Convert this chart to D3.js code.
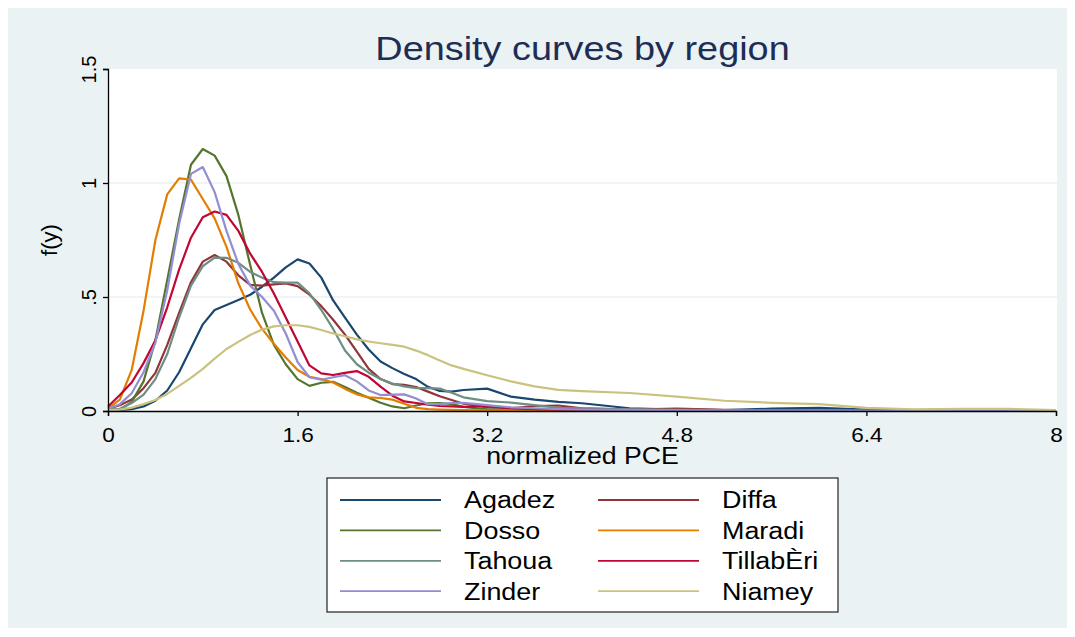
<!DOCTYPE html>
<html>
<head>
<meta charset="utf-8">
<script src="https://cdn.jsdelivr.net/npm/d3@7"></script>
<style>
  body { margin: 0; background: #fff; }
  svg { display: block; font-family: "Liberation Sans", Arial, sans-serif; }
</style>
</head>
<body>
<svg id="chart" width="1075" height="637"></svg>
<script>
// DATA
const xGrid = [0, 0.1, 0.2, 0.3, 0.4, 0.5, 0.6, 0.7, 0.8, 0.9, 1.0, 1.1, 1.2, 1.3, 1.4, 1.5,
  1.6, 1.7, 1.8, 1.9, 2.0, 2.1, 2.2, 2.3, 2.4, 2.5, 2.6, 2.7, 2.8, 2.9, 3.0, 3.2, 3.4, 3.6,
  3.8, 4.0, 4.4, 4.8, 5.2, 5.6, 6.0, 6.4, 6.8, 7.2, 7.6, 8.0];

const agadez = [0.005, 0.005, 0.008, 0.02, 0.045, 0.09, 0.17, 0.275, 0.38, 0.443, 0.465, 0.487, 0.51, 0.545, 0.585, 0.63,
  0.665, 0.647, 0.585, 0.485, 0.41, 0.335, 0.27, 0.217, 0.188, 0.162, 0.14, 0.106, 0.088, 0.085, 0.092, 0.098, 0.063, 0.05,
  0.04, 0.034, 0.012, 0.006, 0.004, 0.01, 0.014, 0.006, 0.003, 0.002, 0.001, 0.001];
const diffa = [0.01, 0.025, 0.05, 0.1, 0.167, 0.29, 0.43, 0.565, 0.655, 0.684, 0.655, 0.595, 0.553, 0.55, 0.555, 0.56,
  0.548, 0.51, 0.46, 0.4, 0.335, 0.26, 0.185, 0.14, 0.118, 0.115, 0.105, 0.085, 0.065, 0.048, 0.032, 0.016, 0.012, 0.022,
  0.024, 0.012, 0.006, 0.01, 0.005, 0.003, 0.002, 0.002, 0.001, 0.001, 0.001, 0.001];
const dosso = [0.003, 0.005, 0.04, 0.13, 0.31, 0.575, 0.84, 1.08, 1.149, 1.12, 1.03, 0.86, 0.64, 0.43, 0.29, 0.205,
  0.14, 0.11, 0.124, 0.128, 0.105, 0.08, 0.058, 0.036, 0.02, 0.012, 0.024, 0.034, 0.035, 0.03, 0.018, 0.007, 0.004, 0.003,
  0.002, 0.002, 0.001, 0.001, 0.001, 0.001, 0.001, 0.001, 0.001, 0.001, 0.001, 0.001];
const maradi = [0.012, 0.05, 0.18, 0.44, 0.75, 0.95, 1.02, 1.015, 0.93, 0.845, 0.72, 0.56, 0.445, 0.36, 0.295, 0.235,
  0.18, 0.15, 0.14, 0.125, 0.097, 0.073, 0.06, 0.057, 0.05, 0.032, 0.014, 0.008, 0.006, 0.005, 0.004, 0.003, 0.003, 0.002,
  0.002, 0.002, 0.001, 0.001, 0.001, 0.001, 0.001, 0.001, 0.001, 0.001, 0.001, 0.001];
const tahoua = [0.005, 0.01, 0.035, 0.072, 0.14, 0.25, 0.41, 0.55, 0.635, 0.673, 0.672, 0.65, 0.61, 0.585, 0.565, 0.563,
  0.563, 0.516, 0.443, 0.36, 0.265, 0.205, 0.168, 0.14, 0.12, 0.108, 0.1, 0.1, 0.098, 0.08, 0.06, 0.043, 0.037, 0.026,
  0.014, 0.012, 0.007, 0.005, 0.004, 0.003, 0.002, 0.002, 0.001, 0.001, 0.001, 0.001];
const tillaberi = [0.02, 0.07, 0.125, 0.21, 0.31, 0.455, 0.62, 0.76, 0.85, 0.875, 0.86, 0.79, 0.69, 0.61, 0.515, 0.41,
  0.305, 0.2, 0.165, 0.158, 0.167, 0.175, 0.15, 0.107, 0.067, 0.042, 0.035, 0.028, 0.022, 0.02, 0.018, 0.022, 0.012, 0.008,
  0.006, 0.005, 0.004, 0.003, 0.002, 0.002, 0.001, 0.001, 0.001, 0.001, 0.001, 0.001];
const zinder = [0.01, 0.03, 0.078, 0.17, 0.3, 0.53, 0.82, 1.04, 1.07, 0.96, 0.79, 0.645, 0.55, 0.5, 0.44, 0.34,
  0.215, 0.148, 0.137, 0.148, 0.157, 0.13, 0.09, 0.07, 0.072, 0.073, 0.055, 0.03, 0.03, 0.035, 0.036, 0.026, 0.016, 0.012,
  0.008, 0.006, 0.005, 0.004, 0.003, 0.002, 0.002, 0.001, 0.001, 0.001, 0.001, 0.001];
const niamey = [0.003, 0.006, 0.015, 0.03, 0.048, 0.075, 0.11, 0.145, 0.185, 0.23, 0.272, 0.303, 0.333, 0.357, 0.371, 0.376,
  0.376, 0.369, 0.355, 0.34, 0.328, 0.314, 0.305, 0.297, 0.29, 0.282, 0.265, 0.245, 0.222, 0.2, 0.185, 0.157, 0.13, 0.108,
  0.093, 0.087, 0.079, 0.063, 0.045, 0.036, 0.03, 0.014, 0.007, 0.009, 0.009, 0.004];

const regionNames = ["Agadez", "Diffa", "Dosso", "Maradi", "Tahoua", "TillabÈri", "Zinder", "Niamey"];
const regionValues = [agadez, diffa, dosso, maradi, tahoua, tillaberi, zinder, niamey];
const regionColors = ["#1a476f", "#90353b", "#55752f", "#e37e00", "#6e8e84", "#c10534", "#938dd2", "#cac27e"];

const xTicks = [0, 1.6, 3.2, 4.8, 6.4, 8];
const yTicks = [0, 0.5, 1, 1.5];
const yTickLabels = ["0", ".5", "1", "1.5"];

// LAYOUT
const svg = d3.select("#chart");
const plot = { left: 108, right: 1057, top: 69, bottom: 411 };
const stretch = 1.13; // the reference text is slightly wide

svg.append("rect")
  .attr("x", 8).attr("y", 8)
  .attr("width", 1059).attr("height", 620)
  .attr("fill", "#eaf2f3");

svg.append("rect")
  .attr("x", plot.left).attr("y", plot.top)
  .attr("width", plot.right - plot.left).attr("height", plot.bottom - plot.top)
  .attr("fill", "#ffffff");

// SCALES
const xScale = d3.scaleLinear().domain([0, 8]).range([plot.left, plot.right - 1]);
const yScale = d3.scaleLinear().domain([0, 1.5]).range([plot.bottom, plot.top]);

// GRID
svg.append("g")
  .selectAll("line")
  .data([0.5, 1])
  .join("line")
  .attr("x1", plot.left).attr("x2", plot.right)
  .attr("y1", d => yScale(d)).attr("y2", d => yScale(d))
  .attr("stroke", "#eaf2f3")
  .attr("stroke-width", 1.5);

// CURVES
const line = d3.line()
  .x((d, i) => xScale(xGrid[i]))
  .y(d => yScale(d));

svg.append("g")
  .selectAll("path")
  .data(regionValues)
  .join("path")
  .attr("d", d => line(d))
  .attr("fill", "none")
  .attr("stroke", (d, i) => regionColors[i])
  .attr("stroke-width", 2.2)
  .attr("stroke-linejoin", "round");

// AXES
const yAxis = d3.axisLeft(yScale)
  .tickValues(yTicks)
  .tickSize(5)
  .tickFormat((d, i) => yTickLabels[i]);

const xAxis = d3.axisBottom(xScale)
  .tickValues(xTicks)
  .tickSize(5)
  .tickFormat(d => d3.format("")(d));

const gy = svg.append("g")
  .attr("transform", `translate(${plot.left},0)`)
  .call(yAxis);
gy.select(".domain").attr("stroke", "#000").attr("stroke-width", 1.3);
gy.selectAll(".tick line").attr("stroke", "#000").attr("stroke-width", 1.3);
gy.selectAll(".tick text")
  .attr("font-size", 20)
  .attr("fill", "#000")
  .attr("text-anchor", "middle")
  .attr("transform", "translate(-12,0) rotate(-90)")
  .attr("x", 0)
  .attr("y", 0)
  .attr("dy", 0);

const gx = svg.append("g")
  .attr("transform", `translate(0,${plot.bottom})`)
  .call(xAxis);
gx.select(".domain").attr("stroke", "#000").attr("stroke-width", 1.3);
gx.selectAll(".tick line").attr("stroke", "#000").attr("stroke-width", 1.3);
gx.selectAll(".tick text")
  .attr("font-size", 20)
  .attr("fill", "#000")
  .attr("y", 0)
  .attr("dy", 0)
  .attr("transform", `translate(0,31) scale(${stretch},1)`);

// TITLES
svg.append("text")
  .attr("transform", `translate(${(plot.left + plot.right) / 2},60) scale(1.165,1)`)
  .attr("text-anchor", "middle")
  .attr("font-size", 32.5)
  .attr("fill", "#1e2d53")
  .text("Density curves by region");

svg.append("text")
  .attr("transform", `translate(${(plot.left + plot.right) / 2},464) scale(1.16,1)`)
  .attr("text-anchor", "middle")
  .attr("font-size", 23)
  .attr("fill", "#000")
  .text("normalized PCE");

svg.append("text")
  .attr("transform", `translate(57,${(plot.top + plot.bottom) / 2}) rotate(-90)`)
  .attr("text-anchor", "middle")
  .attr("font-size", 22)
  .attr("fill", "#000")
  .text("f(y)");

// LEGEND
const legend = svg.append("g");
legend.append("rect")
  .attr("x", 327).attr("y", 478)
  .attr("width", 511).attr("height", 134)
  .attr("fill", "#fff")
  .attr("stroke", "#222")
  .attr("stroke-width", 1.2);

const items = legend.selectAll("g.item")
  .data(regionNames)
  .join("g")
  .attr("class", "item")
  .attr("transform", (d, i) => `translate(${i % 2 === 0 ? 340 : 598},${500 + Math.floor(i / 2) * 30.4})`);

items.append("line")
  .attr("x1", 0).attr("x2", 101)
  .attr("stroke", (d, i) => regionColors[i])
  .attr("stroke-width", 1.8);

items.append("text")
  .attr("transform", `translate(124,8.3) scale(1.17,1)`)
  .attr("font-size", 23)
  .attr("fill", "#000")
  .text(d => d);
</script>
</body>
</html>
